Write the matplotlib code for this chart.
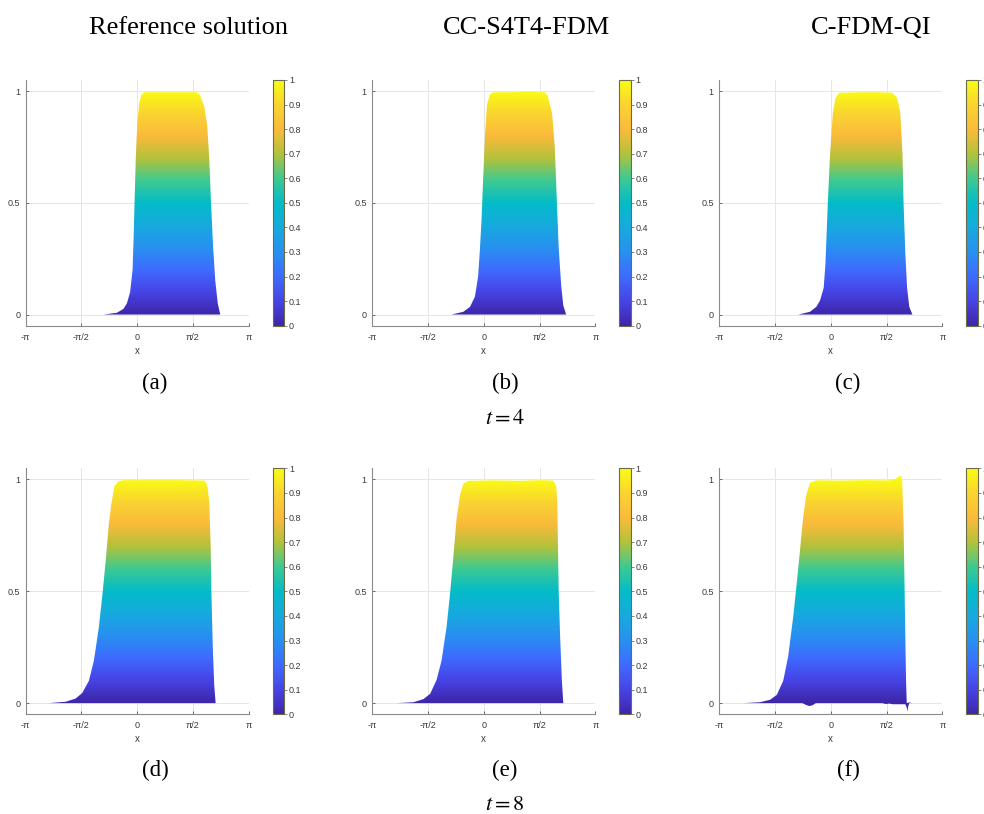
import numpy as np
import matplotlib
matplotlib.use('Agg')
import matplotlib.pyplot as plt
from matplotlib.colors import LinearSegmentedColormap
from matplotlib.patches import Polygon
from matplotlib.cm import ScalarMappable
from matplotlib.colors import Normalize

PI = np.pi

# ---------------- data ----------------
titles = ["Reference solution", "CC-S4T4-FDM", "C-FDM-QI"]
sublabels = ["(a)", "(b)", "(c)", "(d)", "(e)", "(f)"]
time_labels = ["$t=4$", "$t=8$"]

xa = [-0.95, -0.57, -0.39, -0.29, -0.20, -0.13, -0.10, -0.075, -0.04, 0.0, 0.03, 0.06, 0.12, 0.20,
      0.6, 1.0, 1.4, 1.68, 1.78, 1.89, 1.97, 2.03, 2.08, 2.14, 2.20, 2.27, 2.34]
ua = [0, 0.008, 0.025, 0.05, 0.10, 0.20, 0.35, 0.50, 0.70, 0.85, 0.90, 0.95, 0.985, 0.995,
      0.995, 0.995, 0.995, 0.995, 0.98, 0.93, 0.85, 0.70, 0.50, 0.30, 0.15, 0.05, 0]

xb = [-0.91, -0.58, -0.39, -0.25, -0.16, -0.11, -0.065, -0.02, 0.03, 0.09, 0.17, 0.26,
      0.7, 1.2, 1.71, 1.80, 1.925, 2.0, 2.06, 2.11, 2.18, 2.24, 2.32]
ub = [0, 0.012, 0.034, 0.08, 0.17, 0.29, 0.42, 0.60, 0.79, 0.94, 0.985, 0.995,
      0.995, 0.997, 0.995, 0.98, 0.90, 0.75, 0.50, 0.30, 0.13, 0.04, 0]

xc = [-0.92, -0.59, -0.41, -0.30, -0.20, -0.15, -0.084, -0.02, 0.056, 0.13, 0.24,
      0.8, 1.3, 1.73, 1.87, 1.96, 2.02, 2.05, 2.10, 2.15, 2.21, 2.30]
uc = [0, 0.012, 0.034, 0.064, 0.12, 0.23, 0.50, 0.72, 0.90, 0.97, 0.993,
      0.995, 0.995, 0.993, 0.97, 0.90, 0.72, 0.50, 0.27, 0.12, 0.035, 0]

xd = [-2.49, -2.02, -1.74, -1.55, -1.36, -1.22, -1.08, -0.97, -0.88, -0.80, -0.73, -0.64, -0.52, -0.38,
      0.5, 1.2, 1.91, 1.98, 2.03, 2.07, 2.09, 2.13, 2.17, 2.21]
ud = [0, 0.006, 0.02, 0.045, 0.10, 0.19, 0.34, 0.50, 0.65, 0.80, 0.89, 0.97, 0.993, 0.997,
      0.997, 0.997, 0.995, 0.97, 0.90, 0.70, 0.50, 0.25, 0.08, 0]

xe = [-2.45, -1.98, -1.70, -1.51, -1.33, -1.19, -1.05, -0.95, -0.86, -0.77, -0.67, -0.58, -0.44,
      0.3, 1.0, 1.6, 1.96, 2.04, 2.07, 2.09, 2.11, 2.15, 2.20, 2.24]
ue = [0, 0.004, 0.018, 0.042, 0.104, 0.19, 0.34, 0.49, 0.65, 0.82, 0.93, 0.98, 0.994,
      0.996, 0.994, 0.997, 0.995, 0.97, 0.90, 0.70, 0.50, 0.30, 0.10, 0]

xf = [-2.45, -1.99, -1.71, -1.52, -1.34, -1.20, -1.06, -0.97, -0.87, -0.78, -0.69, -0.59, -0.41,
      0.3, 1.0, 1.5, 1.73, 1.85, 1.93, 1.99, 2.01, 2.05, 2.08, 2.12, 2.14, 2.21, 2.29]
uf = [0, 0.004, 0.015, 0.037, 0.10, 0.21, 0.385, 0.52, 0.68, 0.83, 0.93, 0.985, 0.996,
      0.995, 0.997, 0.996, 0.997, 1.005, 1.015, 1.015, 1.0, 0.8, 0.5, 0.1, 0, 0.003, 0]
xf_low = [-2.45, -0.80, -0.70, -0.61, -0.52, -0.42, 1.45, 1.55, 1.65, 1.75, 2.10, 2.14, 2.16, 2.18, 2.21, 2.29]
uf_low = [0, 0, -0.008, -0.013, -0.010, 0, 0, -0.004, -0.002, -0.005, -0.005, -0.02, -0.037, -0.015, 0, 0]

panels = [
    (xa, ua, None, None), (xb, ub, None, None), (xc, uc, None, None),
    (xd, ud, None, None), (xe, ue, None, None), (xf, uf, xf_low, uf_low),
]

xticks = [-PI, -PI / 2, 0, PI / 2, PI]
xticklabels = ["-\u03c0", "-\u03c0/2", "0", "\u03c0/2", "\u03c0"]
yticks = [0, 0.5, 1]
yticklabels = ["0", "0.5", "1"]
cticks = [i / 10 for i in range(11)]
cticklabels = ["0", "0.1", "0.2", "0.3", "0.4", "0.5", "0.6", "0.7", "0.8", "0.9", "1"]

# ---------------- colormap (MATLAB parula-like) ----------------
parula_pts = [
    (0.00, (0.2422, 0.1504, 0.6603)),
    (0.10, (0.2780, 0.2650, 0.9000)),
    (0.20, (0.2440, 0.4180, 0.9990)),
    (0.30, (0.1560, 0.5660, 0.9400)),
    (0.40, (0.0870, 0.6680, 0.8700)),
    (0.50, (0.0150, 0.7350, 0.7850)),
    (0.60, (0.2400, 0.7900, 0.5700)),
    (0.70, (0.7000, 0.7600, 0.2300)),
    (0.80, (0.9800, 0.7300, 0.2300)),
    (0.90, (0.9800, 0.8300, 0.1900)),
    (1.00, (0.9769, 0.9839, 0.0805)),
]
parula = LinearSegmentedColormap.from_list("parula", parula_pts)

W, H = 984, 814
fig = plt.figure(figsize=(W / 100, H / 100), dpi=100)
plt.rcParams["mathtext.fontset"] = "stix"

def fx(px):
    return px / W

def fy(py):
    return 1 - py / H

ax_left = [25.7, 372.3, 719.3]
ax_w = 223.0
cb_left = [272.7, 619.3, 966.0]
cb_w = 11.6
row_top = [80.0, 468.3]
row_bot = [325.7, 714.3]

tick_font = dict(family="Liberation Sans", size=6.5)
grey = "#3a3a3a"

for i, (x, u, xl, ul) in enumerate(panels):
    r, c = divmod(i, 3)
    ax = fig.add_axes([fx(ax_left[c]), fy(row_bot[r]), ax_w / W, (row_bot[r] - row_top[r]) / H])
    ax.set_xlim(-PI, PI)
    ax.set_ylim(-0.05, 1.05)
    if xl is None:
        xl = [x[0], x[-1]]
        ul = [0, 0]
    verts = list(zip(x, u)) + list(zip(xl[::-1], ul[::-1]))
    poly = Polygon(verts, closed=True, facecolor="none", edgecolor="none")
    ax.add_patch(poly)
    grad = np.linspace(-0.05, 1.05, 400).reshape(-1, 1)
    im = ax.imshow(grad, extent=(-PI, PI, -0.05, 1.05), origin="lower", cmap=parula,
                   vmin=0, vmax=1, aspect="auto", zorder=2, interpolation="bilinear")
    im.set_clip_path(poly)

    ax.set_xticks(xticks)
    ax.set_xticklabels(xticklabels, fontdict=tick_font, color=grey)
    ax.set_yticks(yticks)
    ax.set_yticklabels(yticklabels, fontdict=tick_font, color=grey)
    ax.tick_params(direction="in", length=2.5, width=0.6, color="#555555")
    ax.tick_params(axis="x", pad=5)
    ax.tick_params(axis="y", pad=4)
    ax.grid(True, color="#e6e6e6", linewidth=0.7, zorder=0)
    ax.set_axisbelow(True)
    for s in ["top", "right"]:
        ax.spines[s].set_visible(False)
    for s in ["left", "bottom"]:
        ax.spines[s].set_color("#8a8a8a")
        ax.spines[s].set_linewidth(0.8)
    ax.set_xlabel("x", fontdict=dict(family="Liberation Sans", size=7), color=grey, labelpad=3)

    cax = fig.add_axes([fx(cb_left[c]), fy(row_bot[r]), cb_w / W, (row_bot[r] - row_top[r]) / H])
    cb = fig.colorbar(ScalarMappable(norm=Normalize(0, 1), cmap=parula), cax=cax)
    cb.set_ticks(cticks)
    cb.set_ticklabels(cticklabels)
    cax.tick_params(direction="out", length=1.8, width=0.5, color="#555555", pad=1.5,
                    labelsize=6.5, labelcolor=grey)
    for lab in cax.get_yticklabels():
        lab.set_family("Liberation Sans")
    cb.outline.set_edgecolor("#6b6b4a")
    cb.outline.set_linewidth(0.8)

serif = "Liberation Serif"
title_x = [188.5, 526, 871]
for c, t in enumerate(titles):
    fig.text(fx(title_x[c]), fy(28), t, ha="center", va="center", family=serif, fontsize=19)

sub_x = [155, 505, 848]
sub_y = [383, 770]
for i, s in enumerate(sublabels):
    r, c = divmod(i, 3)
    fig.text(fx(sub_x[c]), fy(sub_y[r]), s, ha="center", va="center", family=serif, fontsize=16.5)

time_y = [418, 804]
for r, t in enumerate(time_labels):
    fig.text(fx(505), fy(time_y[r]), t, ha="center", va="center", fontsize=16)

fig.savefig("out.png", dpi=100)
